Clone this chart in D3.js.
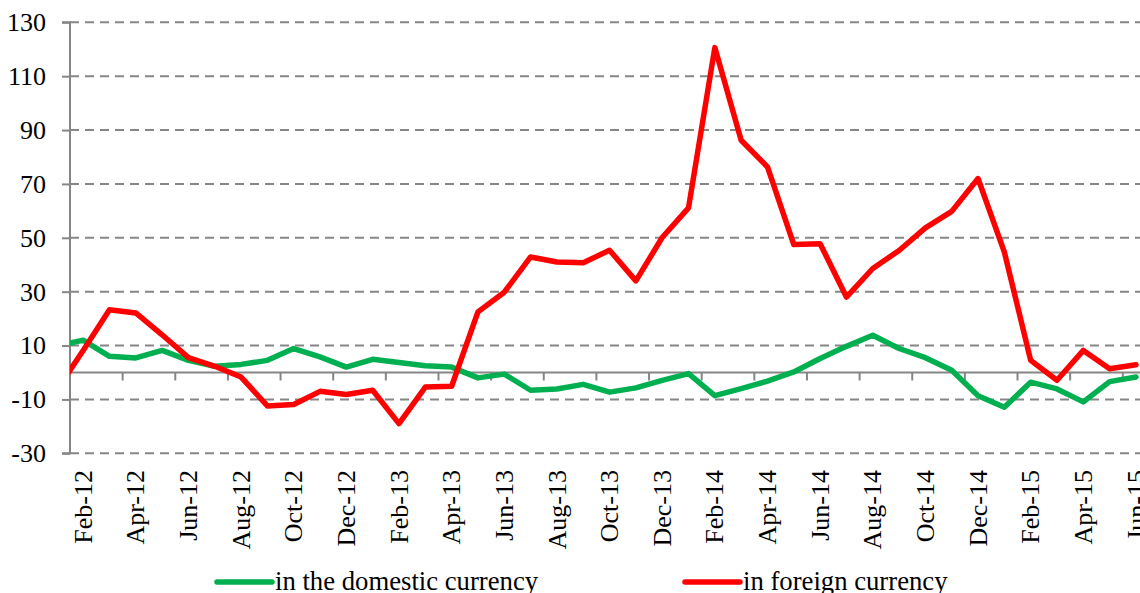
<!DOCTYPE html>
<html>
<head>
<meta charset="utf-8">
<script src="https://cdn.jsdelivr.net/npm/d3@7/dist/d3.min.js"></script>
<style>
  html, body { margin: 0; padding: 0; background: #ffffff; }
  svg { display: block; }
</style>
</head>
<body>
<svg id="chart" width="1140" height="593"></svg>
<script>
// Categories (Jan-12 lies just left of the plotted window and is clipped)
const months = [
  "Jan-12","Feb-12","Mar-12","Apr-12","May-12","Jun-12","Jul-12","Aug-12","Sep-12","Oct-12","Nov-12","Dec-12",
  "Jan-13","Feb-13","Mar-13","Apr-13","May-13","Jun-13","Jul-13","Aug-13","Sep-13","Oct-13","Nov-13","Dec-13",
  "Jan-14","Feb-14","Mar-14","Apr-14","May-14","Jun-14","Jul-14","Aug-14","Sep-14","Oct-14","Nov-14","Dec-14",
  "Jan-15","Feb-15","Mar-15","Apr-15","May-15","Jun-15"
];
// Tick labels shown on the category axis
const tickLabels = ["Feb-12","Apr-12","Jun-12","Aug-12","Oct-12","Dec-12","Feb-13","Apr-13","Jun-13","Aug-13",
  "Oct-13","Dec-13","Feb-14","Apr-14","Jun-14","Aug-14","Oct-14","Dec-14","Feb-15","Apr-15","Jun-15"];
// Y tick values
const yTicks = [-30, -10, 10, 30, 50, 70, 90, 110, 130];

// Series values
const domestic = [
  9.8, 12.0, 6.0, 5.4, 8.2, 4.5, 2.3, 3.0, 4.5, 8.9, 5.8, 2.0,
  4.9, 3.7, 2.5, 2.0, -2.0, -0.6, -6.6, -6.1, -4.4, -7.3, -5.7, -2.9,
  -0.4, -8.6, -6.0, -3.2, 0.2, 5.2, 9.7, 13.8, 8.9, 5.5, 0.8, -8.6,
  -12.9, -3.6, -6.1, -10.9, -3.4, -1.7
];
const foreign = [
  -6.6, 8.2, 23.3, 22.1, 14.0, 5.5, 2.3, -1.7, -12.4, -11.9, -7.0, -8.2,
  -6.6, -19.0, -5.4, -5.1, 22.5, 29.8, 42.9, 41.0, 40.7, 45.4, 34.0, 50.1,
  61.1, 120.6, 86.2, 76.3, 47.5, 47.8, 28.0, 38.6, 45.3, 53.7, 59.8, 72.0,
  44.7, 4.5, -2.9, 8.2, 1.4, 2.9
];
const seriesNames = ["in the domestic currency", "in foreign currency"];
const seriesColors = ["#00B050", "#FF0000"];

const svg = d3.select("#chart");
const font = "'Liberation Serif', 'Times New Roman', serif";

const plotLeft = 70, plotRight = 1140;
const bandW = 26.32;
const x = d3.scaleBand()
  .domain(months)
  .range([plotLeft - bandW, plotLeft - bandW + months.length * bandW])
  .paddingInner(0).paddingOuter(0);
const cx = m => x(m) + x.bandwidth() / 2;

const y = d3.scaleLinear().domain([-30, 130]).range([453.3, 22.3]);

// Clip for the plot area
svg.append("defs").append("clipPath").attr("id", "plotClip")
  .append("rect").attr("x", plotLeft).attr("y", 0).attr("width", plotRight - plotLeft).attr("height", 593);

// Gridlines (dashed)
const grid = svg.append("g");
grid.selectAll("line.grid").data(yTicks).enter().append("line")
  .attr("x1", plotLeft).attr("x2", plotRight)
  .attr("y1", d => y(d)).attr("y2", d => y(d))
  .attr("stroke", "#868686").attr("stroke-width", 2)
  .attr("stroke-dasharray", "9,6");

// Y axis via d3.axisLeft
const yAxis = d3.axisLeft(y).tickValues(yTicks).tickSize(8).tickPadding(16).tickFormat(d => String(d));
const yG = svg.append("g").attr("transform", `translate(${plotLeft},0)`).call(yAxis);
yG.select(".domain").attr("stroke", "#868686").attr("stroke-width", 2)
  .attr("d", `M-8,${y(130)}H0V${y(-30)}H-8`);
yG.selectAll(".tick line").attr("stroke", "#868686").attr("stroke-width", 2);
yG.selectAll(".tick text").attr("font-family", font).attr("font-size", 26).attr("fill", "#000");

// Zero line (category axis) with tick marks every two categories
svg.append("line")
  .attr("x1", plotLeft).attr("x2", plotRight)
  .attr("y1", y(0)).attr("y2", y(0))
  .attr("stroke", "#868686").attr("stroke-width", 2);
const boundaryMonths = months.filter((m, i) => i >= 3 && (i - 3) % 2 === 0);
svg.append("g").selectAll("line").data(boundaryMonths).enter().append("line")
  .attr("x1", d => x(d)).attr("x2", d => x(d))
  .attr("y1", y(0)).attr("y2", y(0) + 8)
  .attr("stroke", "#868686").attr("stroke-width", 2);

// Category labels (rotated) at bottom
svg.append("g").selectAll("text").data(tickLabels).enter().append("text")
  .attr("transform", d => `translate(${cx(d)},470) rotate(-90)`)
  .attr("text-anchor", "end")
  .attr("dy", "0.33em")
  .attr("font-family", font).attr("font-size", 26).attr("fill", "#000")
  .text(d => d);

// Lines
const line = d3.line().x((d, i) => cx(months[i])).y(d => y(d));
const lines = svg.append("g").attr("clip-path", "url(#plotClip)");
[domestic, foreign].forEach((vals, k) => {
  lines.append("path").datum(vals)
    .attr("d", line)
    .attr("fill", "none")
    .attr("stroke", seriesColors[k])
    .attr("stroke-width", 5.5)
    .attr("stroke-linejoin", "round")
    .attr("stroke-linecap", "round");
});

// Legend
const legendX = [217, 685];
const leg = svg.append("g");
seriesNames.forEach((name, k) => {
  leg.append("line")
    .attr("x1", legendX[k]).attr("x2", legendX[k] + 55)
    .attr("y1", 582).attr("y2", 582)
    .attr("stroke", seriesColors[k]).attr("stroke-width", 5.5)
    .attr("stroke-linecap", "round");
  leg.append("text")
    .attr("x", legendX[k] + 58).attr("y", 590)
    .attr("font-family", font).attr("font-size", 26.7).attr("fill", "#000")
    .text(name);
});
</script>
</body>
</html>
